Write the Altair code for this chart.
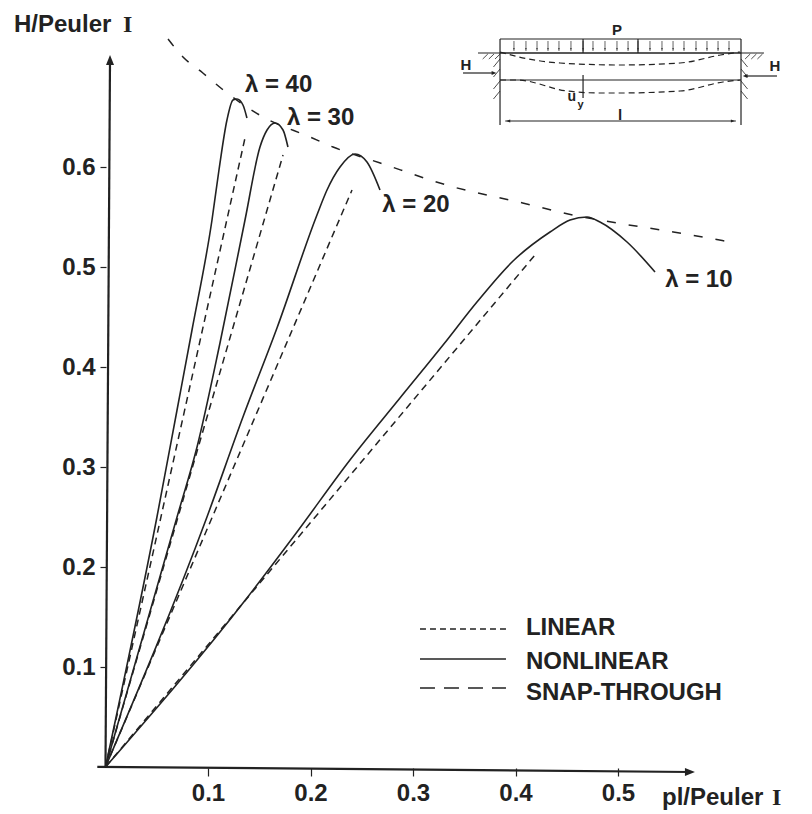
import altair as alt
import pandas as pd

INK = "#222222"
FONT = "Liberation Sans"

# main curves (pl/Peuler I, H/Peuler I)
linear_x = [.061, .0756, .095, .1137, .1537, .1995, .222, .268, .336, .407, .456, .505, .554, .604]
linear_y = [.728, .710, .694, .678, .650, .630, .620, .604, .581, .564, .552, .543, .535, .526]

nl40_x = [0, .0502, .0698, .0844, .1039, .1107, .1185, .1244, .1283, .1341, .138]
nl40_y = [0, .250, .357, .437, .547, .597, .647, .667, .668, .662, .649]
nl30_x = [0, .0698, .0893, .1117, .1361, .1507, .1576, .1654, .1732, .178]
nl30_y = [0, .250, .320, .424, .547, .620, .637, .644, .637, .620]
nl20_x = [0, .099, .1341, .1673, .2063, .2161, .2288, .2434, .2551, .2678]
nl20_y = [0, .250, .350, .439, .552, .577, .600, .613, .605, .577]
nl10_x = [0, .138, .1868, .2385, .2873, .3293, .3624, .3976, .4337, .4532, .4698, .4824, .5088, .5361]
nl10_y = [0, .169, .235, .307, .369, .422, .465, .506, .535, .547, .550, .545, .525, .495]

snap40_x, snap40_y = [0, .1361], [0, .629]
snap30_x, snap30_y = [0, .1732], [0, .612]
snap20_x, snap20_y = [0, .2405], [0, .577]
snap10_x, snap10_y = [0, .419], [0, .512]

tick_values = [.1, .2, .3, .4, .5, .6]

curve_labels = ["λ = 40", "λ = 30", "λ = 20", "λ = 10"]
curve_label_x = [.136, .177, .27, .546]
curve_label_y = [.682, .649, .562, .487]

legend_names = ["LINEAR", "NONLINEAR", "SNAP-THROUGH"]
legend_text_y = [.139, .105, .074]
legend_line_y = [.138, .108, .079]
legend_x1, legend_x2, legend_text_x = .3068, .3907, .4102

# beam sketch
beam_l, beam_r = .3849, .62
load_x = [.3985, .4102, .4210, .4317, .4424, .4541, .4659, .4756, .4873, .4990,
          .5098, .5195, .5312, .5429, .5537, .5644, .5761, .5868, .5976, .6083]
defl_top_x = [.3849, .4034, .4434, .502, .5605, .6, .619]
defl_top_y = [.715, .710, .704, .702, .704, .712, .715]
defl_low_x = [.3849, .4014, .4502, .4824, .5, .5605, .6024, .6195]
defl_low_y = [.687, .687, .676, .674, .674, .676, .685, .687]
# segments: x, y, x2, y2
sketch_segments = [
    (beam_l, .728, beam_r, .728), (beam_l, .714, beam_r, .714),
    (.3634, .714, .6424, .714), (beam_l, .728, beam_l, .652), (beam_r, .728, beam_r, .652),
    (beam_l, .687, beam_r, .687), (.39, .646, .615, .646),
    (.4659, .728, .4659, .714), (.5195, .728, .5195, .714), (.4659, .692, .4659, .669),
    (.3488, .694, .378, .694), (.6551, .691, .624, .691),
    (beam_l, .642, beam_l, .652), (beam_r, .642, beam_r, .652),
]
sketch_hatch = [
    (.3785, .700, .3849, .708), (.3785, .690, .3849, .698), (.3785, .678, .3849, .686),
    (.3785, .668, .3849, .676), (.62, .708, .6264, .700), (.62, .698, .6264, .690),
    (.62, .686, .6264, .678), (.62, .676, .6264, .668),
    (.368, .708, .373, .713), (.374, .708, .379, .713), (.380, .708, .385, .713),
    (.624, .708, .629, .713), (.630, .708, .635, .713), (.636, .708, .641, .713),
]

X = alt.Scale(domain=[-.09512, .68146], range=[0, 796], nice=False, zero=False)
Y = alt.Scale(domain=[-.043, .759], range=[802, 0], nice=False, zero=False)

axis_x = alt.Axis(values=tick_values[:5], format=".1f", domain=False, grid=False, tickSize=8,
                  tickColor=INK, tickWidth=1.2, labelFont=FONT, labelFontSize=24,
                  labelFontWeight="bold", labelColor=INK, labelPadding=5, offset=-42,
                  orient="bottom", labelFlush=False, labelOverlap=False)
axis_y = alt.Axis(values=tick_values, format=".1f", domain=False, grid=False, tickSize=6,
                  tickColor=INK, tickWidth=1.2, labelFont=FONT, labelFontSize=24,
                  labelFontWeight="bold", labelColor=INK, labelPadding=5, offset=-98,
                  orient="left", labelFlush=False, labelOverlap=False)


def xe(field="x"):
    return alt.X(f"{field}:Q", scale=X, axis=axis_x, title=None)


def ye(field="y"):
    return alt.Y(f"{field}:Q", scale=Y, axis=axis_y, title=None)


def line(xs, ys, width=1.6, dash=None, interp="monotone"):
    kw = {"strokeDash": dash} if dash else {}
    return alt.Chart(pd.DataFrame({"x": xs, "y": ys})).mark_line(
        color=INK, strokeWidth=width, interpolate=interp, **kw
    ).encode(x=xe(), y=ye())


def segs(rows, width=1.2):
    df = pd.DataFrame(rows, columns=["x", "y", "x2", "y2"])
    return alt.Chart(df).mark_rule(color=INK, strokeWidth=width).encode(
        x=xe(), y=ye(), x2="x2:Q", y2="y2:Q")


def text(labels, xs, ys, size=24, font=FONT, align="left", weight="bold"):
    df = pd.DataFrame({"x": xs, "y": ys, "t": labels})
    return alt.Chart(df).mark_text(
        font=font, fontSize=size, fontWeight=weight, align=align, baseline="middle", color=INK
    ).encode(x=xe(), y=ye(), text="t:N")


def arrow(x, y, path, size):
    return alt.Chart(pd.DataFrame({"x": [x], "y": [y]})).mark_point(
        shape=path, size=size, filled=True, color=INK, opacity=1
    ).encode(x=xe(), y=ye())


UP = "M -0.4 0.5 L 0.4 0.5 L 0 -0.5 Z"
DOWN = "M -0.4 -0.5 L 0.4 -0.5 L 0 0.5 Z"
RIGHT = "M -0.5 -0.4 L 0.5 0 L -0.5 0.4 Z"
LEFT = "M 0.5 -0.4 L -0.5 0 L 0.5 0.4 Z"

axes = segs([(0, 0, .0044, .707), (-.008, .0002, .5702, -.005)], 2.2)

layers = [axes, arrow(.0044, .707, UP, 400), arrow(.5702, -.005, RIGHT, 400)]
layers.append(line(linear_x, linear_y, 1.5, [9, 13]))
for xs, ys in [(nl40_x, nl40_y), (nl30_x, nl30_y), (nl20_x, nl20_y), (nl10_x, nl10_y)]:
    layers.append(line(xs, ys))
for xs, ys in [(snap40_x, snap40_y), (snap30_x, snap30_y), (snap20_x, snap20_y), (snap10_x, snap10_y)]:
    layers.append(line(xs, ys, 1.5, [7, 5], "linear"))
layers.append(text(curve_labels, curve_label_x, curve_label_y))

# axis titles
layers.append(text(["H/Peuler"], [-.0893], [.742]))
layers.append(text(["I"], [.0171], [.742], 24, "Liberation Serif"))
layers.append(text(["pl/Peuler"], [.5429], [-.031]))
layers.append(text(["I"], [.6502], [-.031], 24, "Liberation Serif"))

# legend
layers.append(line([legend_x1, legend_x2], [legend_line_y[0]] * 2, 1.3, [6, 4], "linear"))
layers.append(line([legend_x1, legend_x2], [legend_line_y[1]] * 2, 1.6, None, "linear"))
layers.append(line([legend_x1, legend_x2], [legend_line_y[2]] * 2, 1.3, [15, 9], "linear"))
layers.append(text(legend_names, [legend_text_x] * 3, legend_text_y))

# beam sketch
layers.append(segs(sketch_segments))
layers.append(segs(sketch_hatch, .8))
layers.append(segs([(v, .726, v, .716) for v in load_x], .7))
layers.append(alt.Chart(pd.DataFrame({"x": load_x, "y": [.718] * len(load_x)})).mark_point(
    shape=DOWN, size=14, filled=True, color=INK, opacity=1).encode(x=xe(), y=ye()))
layers.append(line(defl_top_x, defl_top_y, 1.2, [6, 4]))
layers.append(line(defl_low_x, defl_low_y, 1.2, [6, 4]))
layers += [arrow(.379, .694, RIGHT, 90), arrow(.624, .691, LEFT, 90),
           arrow(.393, .646, LEFT, 60), arrow(.612, .646, RIGHT, 60)]
layers.append(text(["P"], [.499], [.737], 15, align="center"))
layers.append(text(["H", "H"], [.3517, .6532], [.702, .701], 15, align="center"))
layers.append(text(["u"], [.455], [.670], 14, align="center"))
layers.append(text(["y"], [.4635], [.662], 11, align="center"))
layers.append(text(["l"], [.502], [.652], 15, align="center"))

chart = alt.layer(*layers).properties(
    width=796, height=802, padding=0, autosize=alt.AutoSizeParams(type="none"), background="white"
).configure_view(strokeWidth=0)

chart.save("out.html", embed_options={"renderer": "svg", "actions": False})
